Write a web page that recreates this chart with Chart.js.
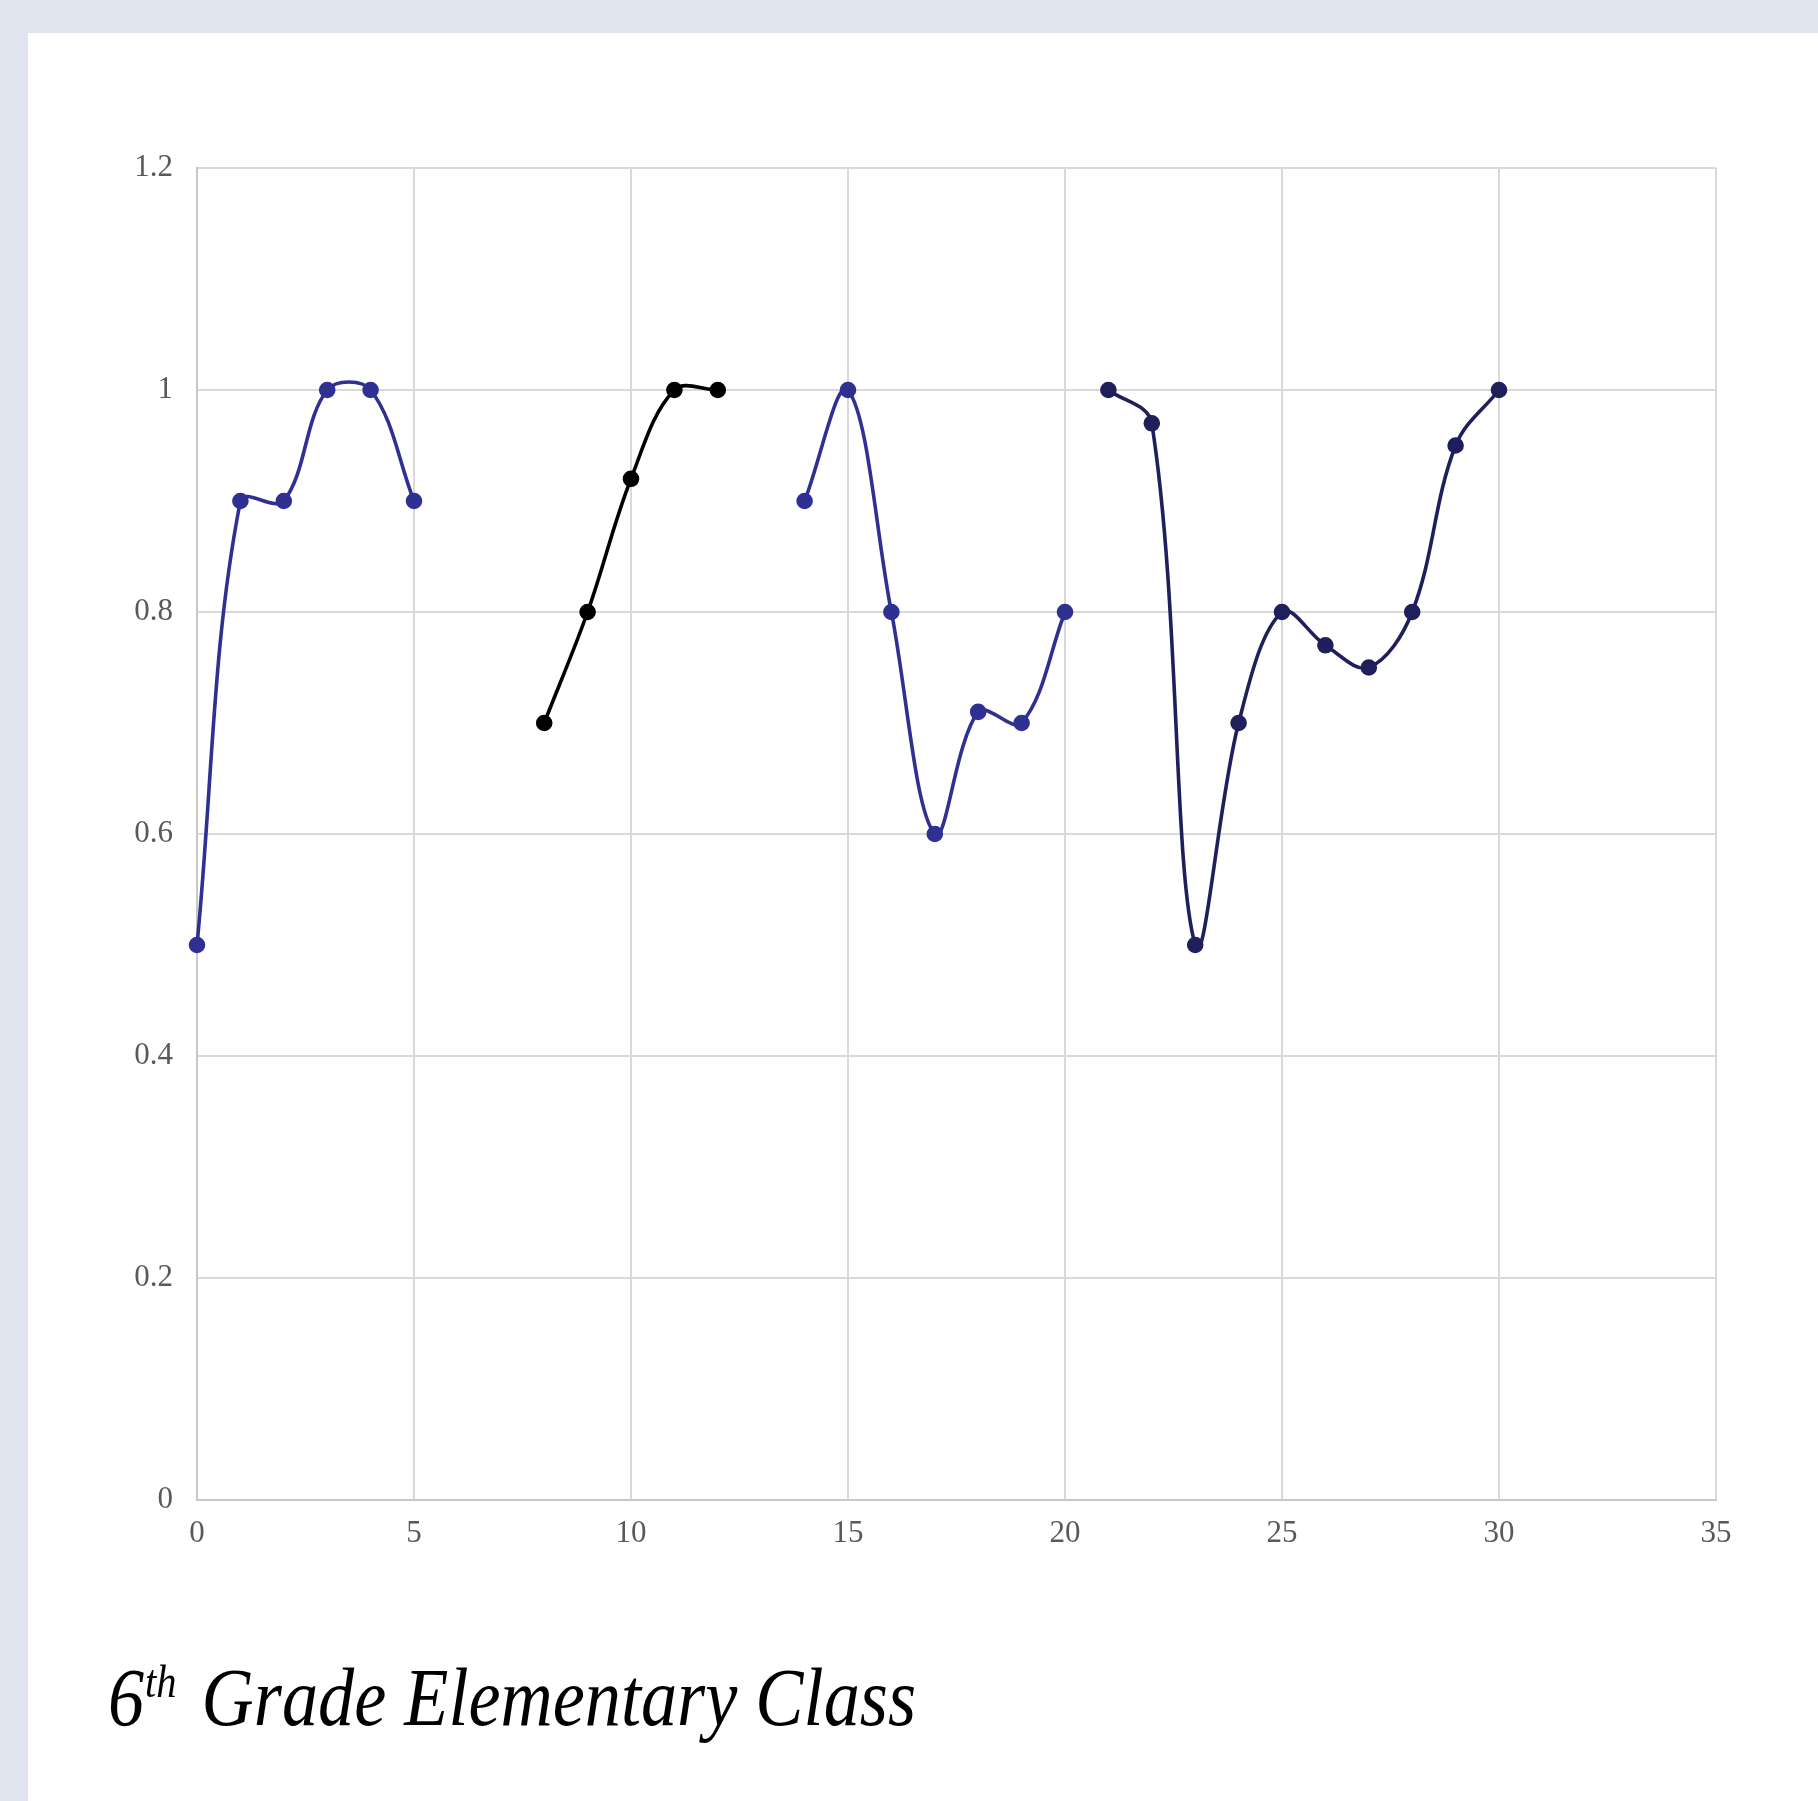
<!DOCTYPE html>
<html>
<head>
<meta charset="utf-8">
<script src="https://cdn.jsdelivr.net/npm/chart.js@4.4.1/dist/chart.umd.min.js"></script>
<style>
  html, body { margin: 0; padding: 0; }
  body { width: 1818px; height: 1801px; background: #dfe4ef; position: relative; overflow: hidden; }
  #panel { position: absolute; left: 28px; top: 33px; right: 0; bottom: 0; background: #ffffff; }
  #wrap { position: absolute; left: 0; top: 0; width: 1818px; height: 1801px; }
  #title {
    position: absolute; left: 108px; top: 1657px; margin: 0;
    font-family: "Liberation Serif", "DejaVu Serif", serif; font-style: italic; font-weight: normal;
    font-size: 82px; line-height: 1; color: #000; white-space: nowrap;
    transform-origin: 0 0;
  }
  #title .sup { font-size: 0.56em; position: relative; top: -0.62em; margin-left: 1px; margin-right: 8px; }
</style>
</head>
<body>
<div id="panel"></div>
<div id="wrap"><canvas id="chart" width="1818" height="1801"></canvas></div>
<h1 id="title">6<span class="sup">th</span> Grade Elementary Class</h1>
<script>
// Four class groups, each a run of consecutive student numbers
const groupAX = [0, 1, 2, 3, 4, 5];
const groupAY = [0.5, 0.9, 0.9, 1.0, 1.0, 0.9];

const groupBX = [8, 9, 10, 11, 12];
const groupBY = [0.7, 0.8, 0.92, 1.0, 1.0];

const groupCX = [14, 15, 16, 17, 18, 19, 20];
const groupCY = [0.9, 1.0, 0.8, 0.6, 0.71, 0.7, 0.8];

const groupDX = [21, 22, 23, 24, 25, 26, 27, 28, 29, 30];
const groupDY = [1.0, 0.97, 0.5, 0.7, 0.8, 0.77, 0.75, 0.8, 0.95, 1.0];

const xTickValues = [0, 5, 10, 15, 20, 25, 30, 35];
const yTickValues = [0, 0.2, 0.4, 0.6, 0.8, 1.0, 1.2];
const yTickLabels = ['0', '0.2', '0.4', '0.6', '0.8', '1', '1.2'];

const pairUp = (xs, ys) => xs.map((x, i) => ({ x: x, y: ys[i] }));

const makeSeries = (label, xs, ys, color) => ({
  label: label,
  data: pairUp(xs, ys),
  borderColor: color,
  backgroundColor: color,
  pointBackgroundColor: color,
  pointBorderColor: color,
  borderWidth: 3.6,
  pointRadius: 6.5,
  pointHoverRadius: 6.5,
  tension: 0.36,
  fill: false,
  clip: false
});

const tickFont = { family: '"Liberation Serif", "DejaVu Serif", serif', size: 31 };

new Chart(document.getElementById('chart'), {
  type: 'line',
  data: {
    datasets: [
      makeSeries('A', groupAX, groupAY, '#2e3192'),
      makeSeries('B', groupBX, groupBY, '#000000'),
      makeSeries('C', groupCX, groupCY, '#2e3192'),
      makeSeries('D', groupDX, groupDY, '#1f1f5c')
    ]
  },
  options: {
    responsive: false,
    animation: false,
    events: [],
    layout: { padding: { left: 97, top: 168, right: 102, bottom: 221 } },
    plugins: { legend: { display: false }, tooltip: { enabled: false }, title: { display: false } },
    scales: {
      x: {
        type: 'linear',
        min: 0, max: 35,
        afterFit: s => { s.height = 80; },
        afterBuildTicks: s => { s.ticks = xTickValues.map(v => ({ value: v })); },
        grid: { color: '#d9d9d9', lineWidth: 2, drawTicks: false },
        border: { color: '#c8c8c8', width: 2 },
        ticks: { color: '#595959', font: tickFont, padding: 15, maxRotation: 0 }
      },
      y: {
        type: 'linear',
        min: 0, max: 1.2,
        afterFit: s => { s.width = 100; },
        afterBuildTicks: s => { s.ticks = yTickValues.map(v => ({ value: v })); },
        grid: { color: '#d9d9d9', lineWidth: 2, drawTicks: false },
        border: { color: '#c8c8c8', width: 2 },
        ticks: {
          color: '#595959', font: tickFont, padding: 24,
          callback: (v, i) => yTickLabels[i]
        }
      }
    }
  }
});

// condense the italic heading to the width of the layout
const title = document.getElementById('title');
const w = title.getBoundingClientRect().width;
title.style.transform = 'scaleX(' + (808 / w) + ')';
</script>
</body>
</html>
